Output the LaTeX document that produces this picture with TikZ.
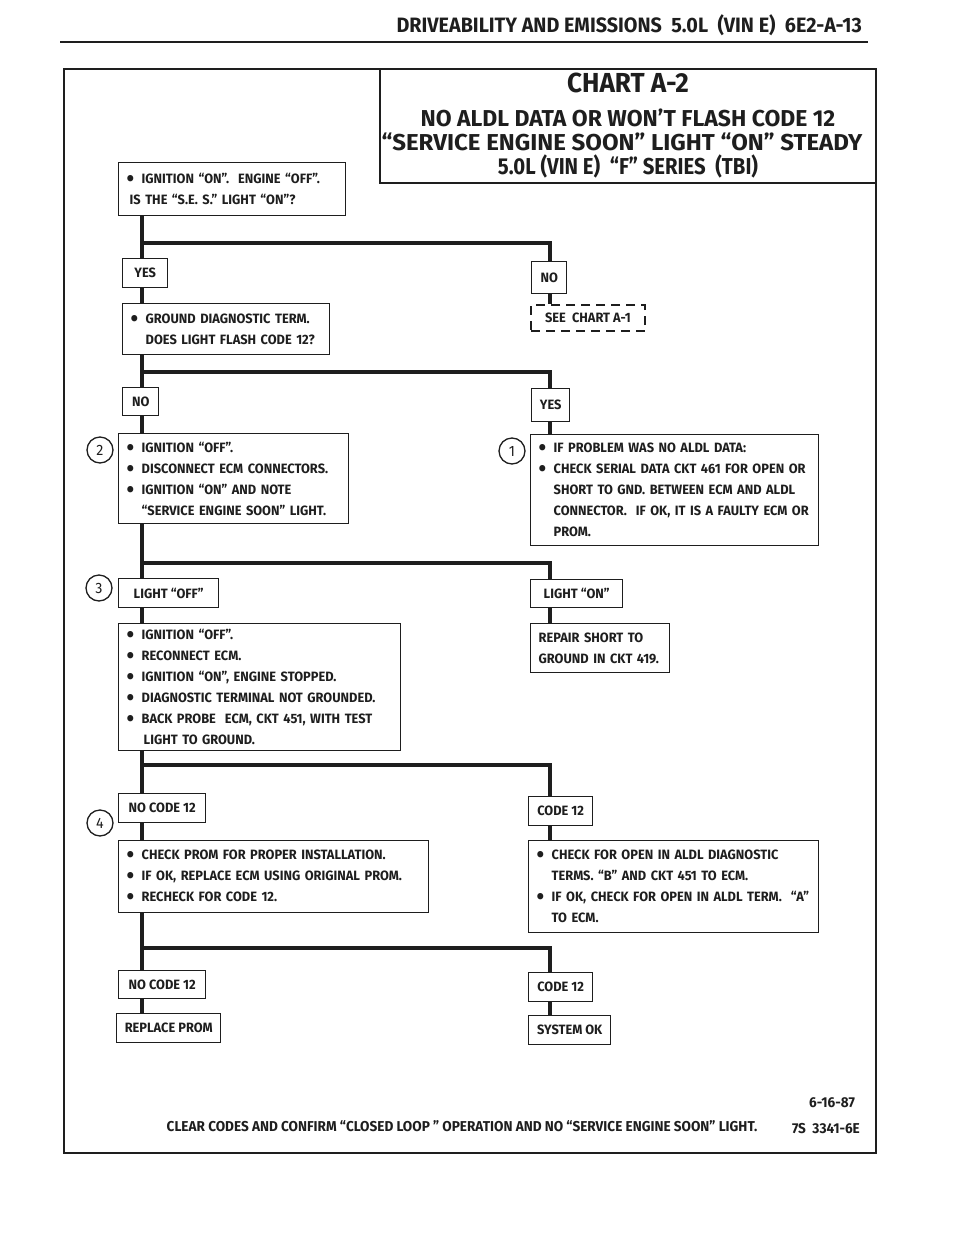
\documentclass[tikz,border=0pt]{standalone}
\usepackage{fontspec}
\setmainfont{Fira Sans}[FakeStretch=0.95]
\usetikzlibrary{calc}
\definecolor{ink}{HTML}{1E1E1E}
\newcommand\bl{\makebox[15pt][l]{\raisebox{-3pt}{\scalebox{1.7}{\textbullet}}}}
\newcommand\ind{\hspace*{15pt}}
\begin{document}
\begin{tikzpicture}[x=1pt,y=-1pt,
  txt/.style={font=\bfseries\fontsize{13.5}{21}\selectfont, text=ink},
  box/.style={txt, draw=ink, line width=1.4pt, fill=white, anchor=north west, inner sep=2pt, align=center},
  mbox/.style={txt, draw=ink, line width=1.4pt, fill=white, anchor=north west, inner xsep=8pt, inner ysep=2pt, align=left},
  dbox/.style={box, dash pattern=on 9pt off 6pt, line width=2pt},
  conn/.style={draw=ink, line width=3.6pt, line join=miter},
  circ/.style={circle, draw=ink, line width=1.3pt, minimum size=26pt, inner sep=0pt, text=ink, font=\fontsize{15}{15}\selectfont},
  ttl/.style={font=\bfseries\fontsize{23}{23}\selectfont, text=ink, inner sep=0pt},
  foot/.style={font=\bfseries\fontsize{14.3}{15}\selectfont, text=ink, inner sep=0pt}
]
\useasboundingbox (0,0) rectangle (960,1242);
% header
\node[font=\bfseries\fontsize{20.8}{21}\selectfont, text=ink, anchor=base east, inner sep=0pt] (hdr) at (862,32) {DRIVEABILITY AND EMISSIONS \ 5.0L \ (VIN E) \ 6E2-A-13};
\draw[ink, line width=2.5pt] (60,42) -- (868,42);
% frame and title box
\draw[ink, line width=2pt] (64,69) rectangle (876,1153);
\draw[ink, line width=1.8pt] (380,69) rectangle (876,183);
\node[ttl, font=\bfseries\fontsize{27.5}{28}\selectfont] (t1) at (628,83) {CHART A-2};
\node[ttl] (t2) at (628,118) {\scalebox{1.05}[1]{NO ALDL DATA OR WON’T FLASH CODE 12}};
\node[ttl] (t3) at (622,142) {\scalebox{1.10}[1]{“SERVICE ENGINE SOON” LIGHT “ON” STEADY}};
\node[ttl] (t4) at (628,166) {\scalebox{0.93}[1]{5.0L (VIN E) \ “F” SERIES \ (TBI)}};

\coordinate (L) at (142,0);
\coordinate (R) at (550,0);

% boxes
\node[mbox, text width=211pt, minimum height=53pt] (b1) at (118,162) {\bl IGNITION “ON”. \ ENGINE “OFF”.\\ \hspace*{3pt}IS THE “S.E. S.” LIGHT “ON”?};
\node[box, minimum width=45pt, minimum height=29pt] (yes1) at (122,258) {YES};
\node[box, minimum width=35pt, minimum height=32pt] (no1) at (531,261) {NO};
\node[dbox, minimum width=114pt, minimum height=26pt] (see1) at (530,304) {SEE \ CHART A-1};
\node[mbox, text width=191pt, minimum height=51pt] (b2) at (122,303) {\bl GROUND DIAGNOSTIC TERM.\\ \ind DOES LIGHT FLASH CODE 12?};
\node[box, minimum width=36pt, minimum height=28pt] (no2) at (122,387) {NO};
\node[box, minimum width=38pt, minimum height=33pt] (yes2) at (531,388) {YES};
\node[mbox, text width=214pt, minimum height=90pt] (b3) at (118,433) {\bl IGNITION “OFF”.\\ \bl DISCONNECT ECM CONNECTORS.\\ \bl IGNITION “ON” AND NOTE\\ \ind “SERVICE ENGINE SOON” LIGHT.};
\node[mbox, text width=272pt, minimum height=111pt] (b4) at (530,434) {\bl IF PROBLEM WAS NO ALDL DATA:\\ \mbox{\bl CHECK SERIAL DATA CKT 461 FOR OPEN OR}\\ \mbox{\ind SHORT TO GND. BETWEEN ECM AND ALDL}\\ \mbox{\ind CONNECTOR. \ IF OK, IT IS A FAULTY ECM OR}\\ \ind PROM.};
\node[box, minimum width=100pt, minimum height=29pt] (off3) at (118,578) {LIGHT “OFF”};
\node[box, minimum width=92pt, minimum height=28pt] (on3) at (530,579) {LIGHT “ON”};
\node[mbox, text width=266pt, minimum height=127pt] (b5) at (118,623) {\bl IGNITION “OFF”.\\ \bl RECONNECT ECM.\\ \bl IGNITION “ON”, ENGINE STOPPED.\\ \mbox{\bl DIAGNOSTIC TERMINAL NOT GROUNDED.}\\ \mbox{\bl BACK PROBE \ ECM, CKT 451, WITH TEST}\\ \ind\hspace*{2pt}LIGHT TO GROUND.};
\node[mbox, text width=123pt, minimum height=49pt] (b6) at (530,623) {REPAIR SHORT TO\\ GROUND IN CKT 419.};
\node[box, minimum width=87pt, minimum height=29pt] (nc1) at (118,793) {NO CODE 12};
\node[box, minimum width=64pt, minimum height=29pt] (cd1) at (528,796) {CODE 12};
\node[mbox, text width=294pt, minimum height=72pt] (b7) at (118,840) {\mbox{\bl CHECK PROM FOR PROPER INSTALLATION.}\\ \mbox{\bl IF OK, REPLACE ECM USING ORIGINAL PROM.}\\ \bl RECHECK FOR CODE 12.};
\node[mbox, text width=274pt, minimum height=92pt] (b8) at (528,840) {\mbox{\bl CHECK FOR OPEN IN ALDL DIAGNOSTIC}\\ \mbox{\ind TERMS. “B” AND CKT 451 TO ECM.}\\ \mbox{\bl IF OK, CHECK FOR OPEN IN ALDL TERM. \ “A”}\\ \ind TO ECM.};
\node[box, minimum width=87pt, minimum height=28pt] (nc2) at (118,970) {NO CODE 12};
\node[box, minimum width=64pt, minimum height=29pt] (cd2) at (528,972) {CODE 12};
\node[box, minimum width=104pt, minimum height=29pt] (rp) at (116,1013) {REPLACE PROM};
\node[box, minimum width=82pt, minimum height=29pt] (ok) at (528,1015) {SYSTEM OK};

% circled numbers
\node[circ] (c2) at (100,450) {2};
\node[circ] (c1) at (512,451) {1};
\node[circ] (c3) at (99,588) {3};
\node[circ] (c4) at (100,823) {4};

% connectors
\coordinate (s1) at (142,243);
\coordinate (s2) at (142,372);
\coordinate (s3) at (142,563);
\coordinate (s4) at (142,765);
\coordinate (s5) at (142,948);
\draw[conn] (b1.south -| L) -- (yes1.north -| L);
\draw[conn] (s1) -| (no1.north -| R);
\draw[conn] (yes1.south -| L) -- (b2.north -| L);
\draw[conn] (no1.south -| R) -- (see1.north -| R);
\draw[conn] (b2.south -| L) -- (no2.north -| L);
\draw[conn] (s2) -| (yes2.north -| R);
\draw[conn] (no2.south -| L) -- (b3.north -| L);
\draw[conn] (yes2.south -| R) -- (b4.north -| R);
\draw[conn] (b3.south -| L) -- (off3.north -| L);
\draw[conn] (s3) -| (on3.north -| R);
\draw[conn] (off3.south -| L) -- (b5.north -| L);
\draw[conn] (on3.south -| R) -- (b6.north -| R);
\draw[conn] (b5.south -| L) -- (nc1.north -| L);
\draw[conn] (s4) -| (cd1.north -| R);
\draw[conn] (nc1.south -| L) -- (b7.north -| L);
\draw[conn] (cd1.south -| R) -- (b8.north -| R);
\draw[conn] (b7.south -| L) -- (nc2.north -| L);
\draw[conn] (s5) -| (cd2.north -| R);
\draw[conn] (nc2.south -| L) -- (rp.north -| L);
\draw[conn] (cd2.south -| R) -- (ok.north -| R);

% footer
\node[foot] (ft) at (462,1126) {CLEAR CODES AND CONFIRM “CLOSED LOOP ” OPERATION AND NO “SERVICE ENGINE SOON” LIGHT.};
\node[foot] (dt) at (832,1103) {6-16-87};
\node[foot] (id) at (826,1129) {7S \ 3341-6E};
\end{tikzpicture}
\end{document}
